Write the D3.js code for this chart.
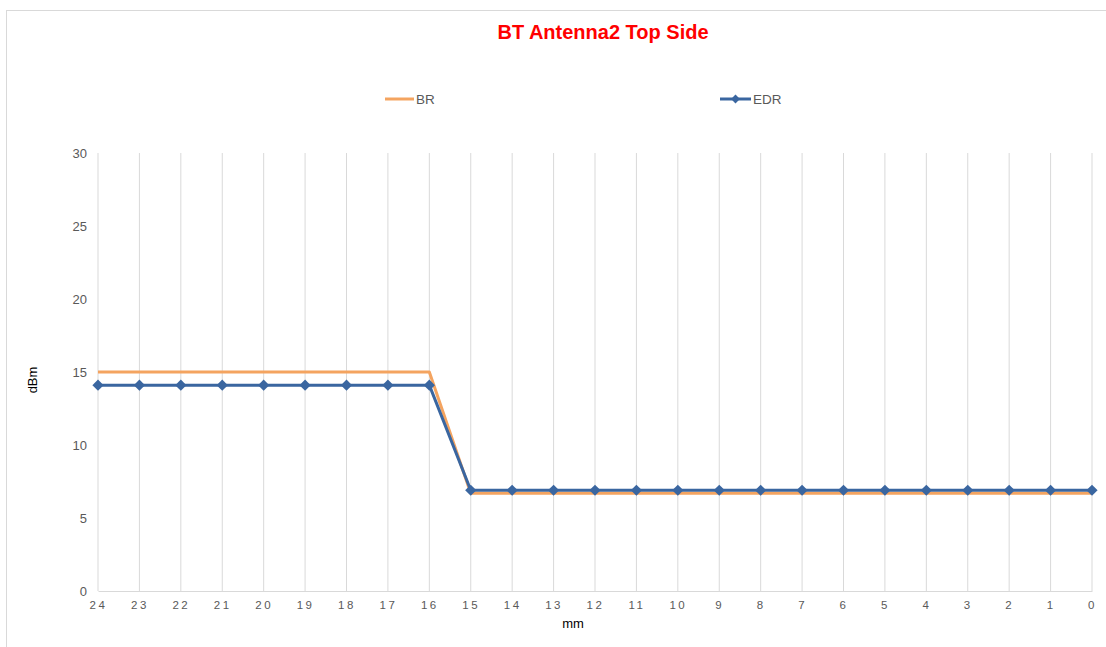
<!DOCTYPE html>
<html><head><meta charset="utf-8">
<script src="https://cdn.jsdelivr.net/npm/d3@7"></script>
<style>body{margin:0;background:#fff;}svg{display:block;font-family:"Liberation Sans",Arial,sans-serif;}</style>
</head><body>
<svg id="c" width="1106" height="647"></svg>
<script>
const categories = ["24","23","22","21","20","19","18","17","16","15","14","13","12","11","10","9","8","7","6","5","4","3","2","1","0"];
const brValues  = [15,15,15,15,15,15,15,15,15,6.7,6.7,6.7,6.7,6.7,6.7,6.7,6.7,6.7,6.7,6.7,6.7,6.7,6.7,6.7,6.7];
const edrValues = [14.1,14.1,14.1,14.1,14.1,14.1,14.1,14.1,14.1,6.9,6.9,6.9,6.9,6.9,6.9,6.9,6.9,6.9,6.9,6.9,6.9,6.9,6.9,6.9,6.9];
const yTicks = [0,5,10,15,20,25,30];

const svg = d3.select("#c");
svg.append("rect").attr("x",6.5).attr("y",10.5).attr("width",1120).attr("height",660)
  .attr("fill","#fff").attr("stroke","#d9d9d9");

const x = d3.scalePoint().domain(categories).range([98,1092]);
const y = d3.scaleLinear().domain([0,30]).range([591,153]);

// vertical gridlines
svg.append("g").selectAll("line").data(categories).join("line")
  .attr("x1",d=>x(d)).attr("x2",d=>x(d)).attr("y1",y(30)).attr("y2",y(0))
  .attr("stroke","#d9d9d9").attr("stroke-width",1);

// x axis
const xa = svg.append("g").attr("transform",`translate(0,${y(0)})`)
  .call(d3.axisBottom(x).tickSize(0).tickPadding(10));
xa.select(".domain").attr("stroke","#d9d9d9");
xa.selectAll("text").attr("fill","#595959").attr("font-size",11.5).style("letter-spacing","2.5px")
  .attr("font-family","Liberation Sans, Arial, sans-serif");

// y axis
const ya = svg.append("g").attr("transform","translate(98,0)")
  .call(d3.axisLeft(y).tickValues(yTicks).tickSize(0).tickPadding(11));
ya.select(".domain").remove();
ya.selectAll("text").attr("fill","#595959").attr("font-size",13)
  .attr("font-family","Liberation Sans, Arial, sans-serif");

const line = d3.line().x((d,i)=>x(categories[i])).y(d=>y(d));
svg.append("path").datum(brValues).attr("d",line).attr("fill","none")
  .attr("stroke","#f4a460").attr("stroke-width",3).attr("stroke-linejoin","round");
svg.append("path").datum(edrValues).attr("d",line).attr("fill","none")
  .attr("stroke","#3a66a0").attr("stroke-width",3).attr("stroke-linejoin","round");
const diamond = d3.symbol().type(d3.symbolDiamond2).size(80);
svg.append("g").selectAll("path").data(edrValues).join("path")
  .attr("transform",(d,i)=>`translate(${x(categories[i])},${y(d)})`)
  .attr("d",diamond).attr("fill","#3a66a0");

// title
svg.append("text").attr("x",603).attr("y",39).attr("text-anchor","middle")
  .attr("fill","#ff0000").attr("font-weight","bold").attr("font-size",20).text("BT Antenna2 Top Side");

// legend
svg.append("line").attr("x1",385).attr("x2",414).attr("y1",99).attr("y2",99)
  .attr("stroke","#f4a460").attr("stroke-width",3);
svg.append("text").attr("x",416).attr("y",104).attr("fill","#595959").attr("font-size",13.5).text("BR");
svg.append("line").attr("x1",720).attr("x2",751).attr("y1",99).attr("y2",99)
  .attr("stroke","#3a66a0").attr("stroke-width",3);
svg.append("path").attr("transform","translate(735.5,99)").attr("d",d3.symbol().type(d3.symbolDiamond2).size(50)).attr("fill","#3a66a0");
svg.append("text").attr("x",753).attr("y",104).attr("fill","#595959").attr("font-size",13.5).text("EDR");

// axis titles
svg.append("text").attr("transform","translate(37,380) rotate(-90)").attr("text-anchor","middle")
  .attr("fill","#000").attr("font-size",13).text("dBm");
svg.append("text").attr("x",573).attr("y",628).attr("text-anchor","middle")
  .attr("fill","#000").attr("font-size",13).text("mm");
</script>
</body></html>
